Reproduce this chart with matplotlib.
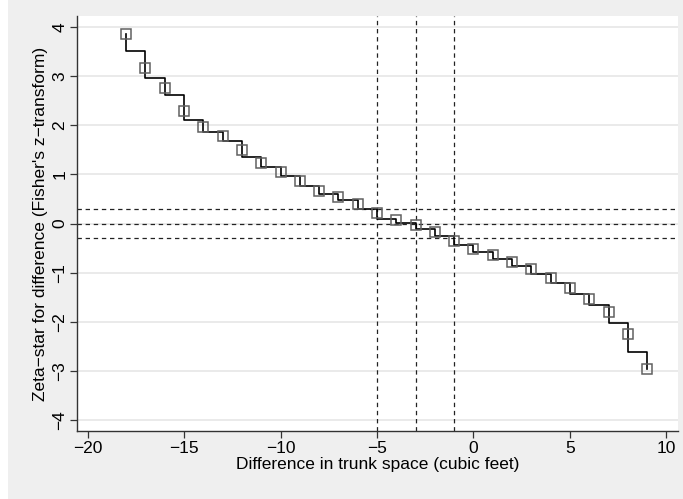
import matplotlib
matplotlib.use("Agg")
import matplotlib.pyplot as plt
from matplotlib.patches import Rectangle

plt.rcParams["font.family"] = ["Liberation Sans", "DejaVu Sans"]

# difference in trunk space (integer shifts) and zeta-star at each shift
diff = list(range(-18, 10))
zeta_pts = [3.86, 3.17, 2.76, 2.30, 1.96, 1.78, 1.49, 1.23, 1.05, 0.87,
            0.67, 0.54, 0.40, 0.21, 0.08, -0.04, -0.17, -0.35, -0.51, -0.65,
            -0.79, -0.93, -1.10, -1.32, -1.54, -1.81, -2.24, -2.96]
# step-line levels between consecutive shifts
zeta_steps = [3.51, 2.96, 2.62, 2.10, 1.86, 1.69, 1.35, 1.15, 0.97, 0.77,
              0.60, 0.47, 0.295, 0.10, 0.01, -0.11, -0.26, -0.44, -0.59, -0.72,
              -0.87, -1.02, -1.21, -1.43, -1.65, -2.03, -2.61]

hlines = [0.29, 0.0, -0.29]
vlines = [-5, -3, -1]

bg = "#efefef"
fs = 12.5
fig = plt.figure(figsize=(6.83, 4.99), dpi=100, facecolor="white")
fig.patches.append(Rectangle((8 / 683, 0), 1, 1, transform=fig.transFigure,
                             facecolor=bg, edgecolor="none", zorder=-10))
ax = fig.add_axes([77 / 683, 68 / 499, 601 / 683, 415 / 499])
ax.set_facecolor("white")

for y in range(-4, 5):
    ax.axhline(y, color="#e8e8e8", lw=1.3, zorder=0)

# stairstep line: start at first marker, end at last marker
xs = [diff[0]] + diff[:-1] + [diff[-1]]
ys = [zeta_pts[0]] + zeta_steps + [zeta_pts[-1]]
ax.step(xs, ys, where="post", color="black", lw=1.2, zorder=3)
ax.plot(diff, zeta_pts, ls="none", marker="s", ms=7, mfc="none",
        mec="#606060", mew=1.1, zorder=4)

for y in hlines:
    ax.axhline(y, color="#222222", lw=0.9, ls=(0, (3.5, 3)), zorder=2)
for x in vlines:
    ax.axvline(x, color="#222222", lw=0.9, ls=(0, (3.5, 3)), zorder=2)

ax.set_xlim(-20.55, 10.6)
ax.set_ylim(-4.225, 4.225)
ax.set_xticks([-20, -15, -10, -5, 0, 5, 10])
ax.set_xticklabels(["\u221220", "\u221215", "\u221210", "\u22125", "0", "5", "10"])
ax.set_yticks(range(-4, 5))
ax.set_yticklabels([str(v).replace("-", "\u2212") for v in range(-4, 5)],
                   rotation=90, va="center")
ax.tick_params(axis="both", direction="out", length=5, width=0.9,
               color="#333333", labelsize=fs, pad=2)

for s in ["top", "right"]:
    ax.spines[s].set_visible(False)
for s in ["left", "bottom"]:
    ax.spines[s].set_color("#333333")
    ax.spines[s].set_linewidth(1.0)

ax.set_xlabel("Difference in trunk space (cubic feet)", fontsize=fs, labelpad=1)
ax.set_ylabel("Zeta\u2212star for difference (Fisher's z\u2212transform)",
              fontsize=fs, labelpad=3)

fig.savefig("out.png", dpi=100, facecolor=fig.get_facecolor())
